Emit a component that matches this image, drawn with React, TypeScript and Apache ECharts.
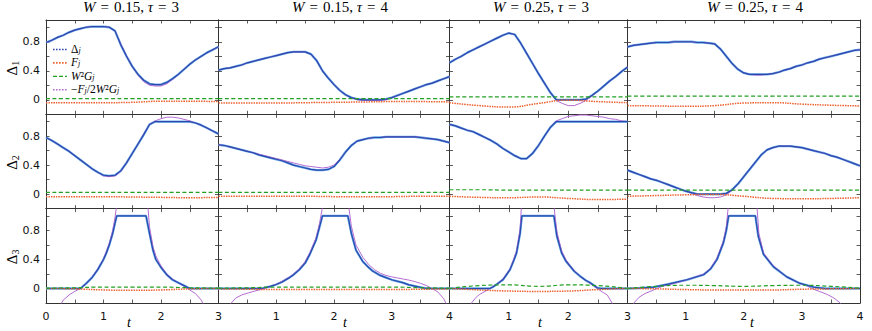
import React, { useEffect, useRef } from "react";
import * as echarts from "echarts";

// ---------------- data ----------------
const tFine = 0.1;
const tCoarse = 0.5;
const wValues = ["0.15", "0.15", "0.25", "0.25"];
const tauValues = [3, 4, 3, 4];
const yLabelValues = [0, 0.4, 0.8];
const rowNames = ["1", "2", "3"];

// Row 1 (Δ1), sampled every 0.1 in t
const delta11 = [0.79,0.82,0.86,0.89,0.93,0.96,0.98,1.00,1.01,1.01,1.01,1.00,0.95,0.76,0.60,0.46,0.35,0.27,0.22,0.21,0.21,0.24,0.29,0.35,0.42,0.49,0.55,0.60,0.65,0.69,0.73];
const purple11 = [0.79,0.82,0.86,0.89,0.93,0.96,0.98,1.00,1.01,1.01,1.01,1.00,0.95,0.77,0.61,0.46,0.34,0.25,0.20,0.19,0.19,0.22,0.28,0.35,0.42,0.49,0.55,0.60,0.65,0.69,0.73];
const delta12 = [0.41,0.43,0.44,0.46,0.48,0.51,0.53,0.55,0.57,0.59,0.61,0.63,0.65,0.66,0.66,0.66,0.63,0.54,0.40,0.30,0.21,0.13,0.07,0.03,0.01,0.00,0.00,0.00,0.00,0.01,0.03,0.06,0.09,0.12,0.15,0.18,0.21,0.23,0.26,0.29,0.32];
const purple12 = [0.41,0.43,0.44,0.46,0.48,0.51,0.53,0.55,0.57,0.59,0.61,0.63,0.65,0.66,0.66,0.66,0.63,0.54,0.40,0.30,0.21,0.13,0.07,0.03,0.00,-0.01,-0.01,-0.01,-0.01,0.00,0.03,0.06,0.09,0.12,0.15,0.18,0.21,0.23,0.26,0.29,0.32];
const delta13 = [0.51,0.56,0.60,0.65,0.69,0.73,0.77,0.81,0.85,0.89,0.92,0.90,0.78,0.64,0.50,0.36,0.23,0.10,0.00,0.00,0.00,0.00,0.00,0.01,0.06,0.12,0.19,0.26,0.32,0.39,0.45];
const purple13 = [0.51,0.56,0.60,0.65,0.69,0.73,0.77,0.81,0.85,0.89,0.92,0.90,0.78,0.64,0.50,0.36,0.23,0.10,-0.01,-0.05,-0.08,-0.08,-0.05,-0.01,0.05,0.12,0.19,0.26,0.32,0.39,0.45];
const delta14 = [0.73,0.75,0.76,0.77,0.78,0.79,0.79,0.79,0.80,0.80,0.80,0.80,0.79,0.79,0.78,0.77,0.70,0.60,0.50,0.42,0.37,0.35,0.35,0.35,0.35,0.36,0.38,0.41,0.43,0.46,0.48,0.51,0.53,0.56,0.58,0.60,0.62,0.64,0.66,0.68,0.69];
const purple14 = [0.73,0.75,0.76,0.77,0.78,0.79,0.79,0.79,0.80,0.80,0.80,0.80,0.79,0.79,0.78,0.77,0.70,0.60,0.50,0.42,0.37,0.35,0.34,0.34,0.35,0.36,0.38,0.41,0.43,0.46,0.48,0.51,0.53,0.56,0.58,0.60,0.62,0.64,0.66,0.68,0.69];

// Row 2 (Δ2)
const delta21 = [0.78,0.74,0.69,0.64,0.59,0.53,0.47,0.41,0.35,0.30,0.26,0.25,0.26,0.32,0.43,0.56,0.69,0.82,0.96,1.00,1.00,1.00,1.00,1.00,1.00,1.00,0.98,0.95,0.91,0.87,0.83];
const purple21 = [0.78,0.74,0.69,0.64,0.59,0.53,0.47,0.41,0.35,0.30,0.25,0.24,0.25,0.31,0.43,0.56,0.69,0.83,0.96,1.01,1.04,1.06,1.06,1.05,1.03,1.01,0.98,0.95,0.91,0.87,0.83];
const delta22 = [0.68,0.67,0.65,0.63,0.61,0.59,0.57,0.54,0.52,0.50,0.48,0.46,0.43,0.40,0.38,0.36,0.34,0.33,0.33,0.34,0.38,0.47,0.58,0.67,0.73,0.75,0.77,0.78,0.78,0.79,0.79,0.79,0.79,0.79,0.79,0.78,0.77,0.76,0.75,0.73,0.71];
const purple22 = [0.68,0.67,0.65,0.63,0.61,0.59,0.57,0.55,0.53,0.51,0.49,0.47,0.45,0.43,0.41,0.39,0.38,0.37,0.36,0.37,0.40,0.48,0.58,0.67,0.73,0.75,0.77,0.78,0.78,0.79,0.79,0.79,0.79,0.79,0.79,0.78,0.77,0.76,0.75,0.73,0.71];
const delta23 = [0.96,0.94,0.91,0.88,0.86,0.82,0.78,0.74,0.69,0.63,0.58,0.53,0.49,0.49,0.56,0.67,0.80,0.92,1.00,1.00,1.00,1.00,1.00,1.00,1.00,1.00,1.00,1.00,1.00,1.00,1.00];
const purple23 = [0.96,0.94,0.91,0.88,0.86,0.82,0.78,0.74,0.69,0.63,0.58,0.53,0.49,0.49,0.56,0.67,0.80,0.92,1.01,1.04,1.07,1.08,1.09,1.09,1.08,1.07,1.06,1.04,1.03,1.01,1.00];
const delta24 = [0.33,0.30,0.27,0.24,0.21,0.19,0.16,0.13,0.10,0.07,0.04,0.02,0.00,0.00,0.00,0.00,0.00,0.01,0.06,0.14,0.24,0.34,0.44,0.54,0.61,0.64,0.66,0.66,0.66,0.65,0.64,0.62,0.60,0.58,0.56,0.53,0.51,0.48,0.45,0.42,0.39];
const purple24 = [0.33,0.30,0.27,0.24,0.21,0.19,0.16,0.13,0.10,0.07,0.04,0.01,-0.02,-0.04,-0.05,-0.05,-0.04,-0.01,0.05,0.14,0.24,0.34,0.44,0.54,0.61,0.64,0.66,0.66,0.66,0.65,0.64,0.62,0.60,0.58,0.56,0.53,0.51,0.48,0.45,0.42,0.39];

// Row 3 (Δ3), [t, value] pairs
const delta31 = [[0,0],[0.6,0],[0.7,0.07],[0.8,0.15],[0.9,0.26],[1.0,0.40],[1.05,0.49],[1.1,0.60],[1.16,0.76],[1.2,0.9],[1.23,1],[1.74,1],[1.8,0.76],[1.86,0.53],[1.91,0.40],[2.0,0.29],[2.1,0.19],[2.2,0.12],[2.3,0.08],[2.4,0.04],[2.5,0],[3,0]];
const purple31 = [[0.1,-0.6],[0.2,-0.3],[0.3,-0.16],[0.4,-0.09],[0.5,-0.04],[0.6,0.0],[0.7,0.07],[0.8,0.155],[0.9,0.27],[1.0,0.41],[1.1,0.62],[1.16,0.8],[1.2,0.98],[1.23,1.15],[1.26,1.6],[1.3,3],[1.7,3],[1.74,1.6],[1.77,1.15],[1.8,0.85],[1.86,0.58],[1.91,0.45],[2.0,0.31],[2.1,0.2],[2.2,0.13],[2.3,0.08],[2.4,0.03],[2.5,-0.02],[2.6,-0.07],[2.7,-0.16],[2.8,-0.32],[2.9,-0.6]];
const delta32 = [[0,0],[0.75,0],[0.9,0.03],[1.0,0.055],[1.1,0.09],[1.23,0.15],[1.3,0.19],[1.4,0.26],[1.5,0.35],[1.58,0.47],[1.69,0.67],[1.75,0.85],[1.8,1],[2.24,1],[2.3,0.76],[2.38,0.53],[2.5,0.37],[2.6,0.29],[2.67,0.24],[2.8,0.18],[2.9,0.15],[3.0,0.12],[3.19,0.08],[3.3,0.05],[3.48,0.02],[3.6,0],[4,0]];
const purple32 = [[0.1,-0.45],[0.2,-0.22],[0.3,-0.13],[0.4,-0.09],[0.52,-0.06],[0.65,-0.03],[0.8,0.0],[0.9,0.03],[1.0,0.06],[1.1,0.10],[1.23,0.16],[1.3,0.2],[1.4,0.27],[1.5,0.37],[1.58,0.49],[1.69,0.7],[1.75,0.9],[1.8,1.12],[1.83,1.5],[1.9,3],[2.15,3],[2.22,1.5],[2.26,1.1],[2.3,0.86],[2.38,0.6],[2.5,0.43],[2.6,0.33],[2.7,0.26],[2.8,0.21],[2.9,0.18],[3.0,0.16],[3.1,0.145],[3.2,0.13],[3.3,0.115],[3.4,0.095],[3.5,0.07],[3.6,0.04],[3.7,0.0],[3.8,-0.05],[3.9,-0.14],[3.95,-0.22],[4,-0.5]];
const delta33 = [[0,0],[0.68,0],[0.73,0.02],[0.8,0.06],[0.9,0.12],[1.02,0.26],[1.08,0.38],[1.13,0.49],[1.19,0.76],[1.22,1],[1.76,1],[1.81,0.72],[1.89,0.49],[1.96,0.38],[2.03,0.31],[2.1,0.24],[2.2,0.17],[2.3,0.11],[2.37,0.08],[2.49,0.01],[2.55,0],[3,0]];
const purple33 = [[0.3,-0.4],[0.37,-0.2],[0.45,-0.12],[0.51,-0.08],[0.6,-0.04],[0.68,0.0],[0.73,0.025],[0.8,0.065],[0.9,0.13],[1.02,0.27],[1.08,0.40],[1.13,0.52],[1.19,0.82],[1.21,1.1],[1.23,1.5],[1.3,3],[1.7,3],[1.74,1.5],[1.765,1.1],[1.81,0.78],[1.89,0.52],[1.96,0.40],[2.03,0.32],[2.1,0.25],[2.2,0.17],[2.3,0.11],[2.37,0.07],[2.49,0.0],[2.58,-0.05],[2.66,-0.09],[2.74,-0.2],[2.8,-0.4]];
const delta34 = [[0,0],[0.2,0.005],[0.45,0.02],[0.7,0.06],[1.02,0.12],[1.31,0.19],[1.43,0.27],[1.54,0.4],[1.65,0.63],[1.7,0.8],[1.74,1],[2.2,1],[2.25,0.72],[2.34,0.47],[2.51,0.3],[2.74,0.16],[2.97,0.07],[3.2,0.02],[3.4,0],[4,0]];
const purple34 = [[0.05,-0.5],[0.11,-0.2],[0.2,-0.12],[0.3,-0.07],[0.45,-0.02],[0.6,0.03],[0.8,0.07],[1.02,0.12],[1.31,0.2],[1.43,0.28],[1.54,0.42],[1.65,0.66],[1.7,0.85],[1.73,1.1],[1.76,1.5],[1.8,3],[2.15,3],[2.2,1.5],[2.23,1.1],[2.26,0.76],[2.34,0.49],[2.51,0.31],[2.74,0.16],[2.97,0.07],[3.1,0.03],[3.17,0.0],[3.3,-0.04],[3.43,-0.08],[3.55,-0.13],[3.66,-0.2],[3.75,-0.4]];

// F_j and W^2 G_j, sampled every 0.5 in t
const f11 = [-0.04,-0.04,-0.04,-0.035,-0.02,-0.02,-0.025];
const g11 = [0.015,0.015,0.015,0.015,0.015,0.015,0.015];
const f12 = [-0.045,-0.045,-0.045,-0.04,-0.035,-0.03,-0.025,-0.025,-0.03];
const g12 = [0.015,0.015,0.015,0.015,0.015,0.015,0.015,0.015,0.015];
const f13 = [-0.04,-0.08,-0.10,-0.05,-0.005,-0.025,-0.04];
const g13 = [0.04,0.04,0.04,0.04,0.04,0.04,0.04];
const f14 = [-0.08,-0.085,-0.09,-0.08,-0.045,-0.04,-0.06,-0.075,-0.085];
const g14 = [0.05,0.05,0.05,0.05,0.05,0.05,0.05,0.05,0.05];
const f21 = [-0.035,-0.035,-0.035,-0.04,-0.045,-0.05,-0.045];
const g21 = [0.025,0.025,0.025,0.025,0.025,0.025,0.025];
const f22 = [-0.03,-0.03,-0.03,-0.03,-0.035,-0.035,-0.035,-0.03,-0.03];
const g22 = [0.025,0.025,0.025,0.025,0.025,0.025,0.025,0.025,0.025];
const f23 = [-0.03,-0.045,-0.05,-0.04,-0.06,-0.075,-0.07];
const g23 = [0.06,0.06,0.055,0.055,0.055,0.055,0.055];
const f24 = [-0.03,-0.02,-0.01,-0.005,-0.03,-0.06,-0.065,-0.06,-0.05];
const g24 = [0.055,0.055,0.055,0.055,0.055,0.055,0.055,0.055,0.055];
const f31 = [0.0,-0.005,-0.02,-0.025,-0.02,-0.005,0.0];
const g31 = [0.005,0.01,0.02,0.02,0.02,0.01,0.005];
const f32 = [-0.005,-0.01,-0.015,-0.015,-0.015,-0.015,-0.015,-0.01,-0.005];
const g32 = [0.005,0.01,0.02,0.02,0.02,0.02,0.02,0.01,0.005];
const f33 = [0.0,-0.02,-0.035,-0.04,-0.035,-0.015,0.0];
const g33 = [0.0,0.04,0.05,0.03,0.05,0.04,0.0];
const f34 = [0.0,-0.005,-0.015,-0.02,-0.02,-0.02,-0.01,-0.005,0.0];
const g34 = [0.0,0.03,0.045,0.04,0.03,0.04,0.045,0.03,0.005];

function onGrid(values: number[], step: number): number[][] {
  return values.map((v, i) => [+(i * step).toFixed(2), v]);
}

const panels = [
  { delta: onGrid(delta11, tFine), purple: onGrid(purple11, tFine), f: onGrid(f11, tCoarse), g: onGrid(g11, tCoarse) },
  { delta: onGrid(delta12, tFine), purple: onGrid(purple12, tFine), f: onGrid(f12, tCoarse), g: onGrid(g12, tCoarse) },
  { delta: onGrid(delta13, tFine), purple: onGrid(purple13, tFine), f: onGrid(f13, tCoarse), g: onGrid(g13, tCoarse) },
  { delta: onGrid(delta14, tFine), purple: onGrid(purple14, tFine), f: onGrid(f14, tCoarse), g: onGrid(g14, tCoarse) },
  { delta: onGrid(delta21, tFine), purple: onGrid(purple21, tFine), f: onGrid(f21, tCoarse), g: onGrid(g21, tCoarse) },
  { delta: onGrid(delta22, tFine), purple: onGrid(purple22, tFine), f: onGrid(f22, tCoarse), g: onGrid(g22, tCoarse) },
  { delta: onGrid(delta23, tFine), purple: onGrid(purple23, tFine), f: onGrid(f23, tCoarse), g: onGrid(g23, tCoarse) },
  { delta: onGrid(delta24, tFine), purple: onGrid(purple24, tFine), f: onGrid(f24, tCoarse), g: onGrid(g24, tCoarse) },
  { delta: delta31, purple: purple31, f: onGrid(f31, tCoarse), g: onGrid(g31, tCoarse) },
  { delta: delta32, purple: purple32, f: onGrid(f32, tCoarse), g: onGrid(g32, tCoarse) },
  { delta: delta33, purple: purple33, f: onGrid(f33, tCoarse), g: onGrid(g33, tCoarse) },
  { delta: delta34, purple: purple34, f: onGrid(f34, tCoarse), g: onGrid(g34, tCoarse) },
];

// ---------------- layout / style ----------------
const COL_LEFT = [46, 218.5, 449.5, 627.5];
const COL_WIDTH = [172.5, 231, 178, 232.5];
const ROW_TOP = [20, 114.3, 208.7];
const ROW_H = 94.3;
const TITLE_X = [131, 340, 541, 755];
const TLABEL_X = [129, 345, 540, 752];

const SERIF = "'Liberation Serif', 'DejaVu Serif', serif";
const SANS = "'DejaVu Sans', sans-serif";
const C_LIGHT = "#64ace6";
const C_DARK = "#2a48b0";
const C_ORANGE = "#ee6230";
const C_GREEN = "#22a022";
const C_PURPLE = "#b46cd2";
const C_AXIS = "#333";

function mathRich(size: number, subSize: number, lh: number, drop: number) {
  return {
    i: { fontFamily: SERIF, fontStyle: "italic", fontSize: size, fill: "#000", lineHeight: lh },
    r: { fontFamily: SERIF, fontSize: size, fill: "#000", lineHeight: lh },
    e: { fontFamily: SERIF, fontSize: size, fill: "#000", lineHeight: lh, padding: [0, 5, 0, 5] },
    s: { fontFamily: SERIF, fontStyle: "italic", fontSize: subSize, fill: "#000", lineHeight: lh, padding: [drop, 0, 0, 0] },
    n: { fontFamily: SERIF, fontSize: subSize, fill: "#000", lineHeight: lh, padding: [drop, 0, 0, 0] },
  };
}

function buildOption() {
  const grid: any[] = [];
  const xAxis: any[] = [];
  const yAxis: any[] = [];
  const series: any[] = [];
  const axisLine = { show: true, onZero: false, lineStyle: { color: C_AXIS, width: 1 } };
  const axisTick = { show: true, inside: true, length: 3.5, lineStyle: { color: C_AXIS, width: 0.8 } };

  for (let r = 0; r < 3; r++) {
    for (let c = 0; c < 4; c++) {
      const k = r * 4 + c;
      grid.push({ left: COL_LEFT[c], top: ROW_TOP[r], width: COL_WIDTH[c], height: ROW_H });
      const xBase = {
        type: "value", gridIndex: k, min: 0, max: tauValues[c], interval: 0.5,
        axisLine, axisTick, splitLine: { show: false },
      };
      xAxis.push({
        ...xBase, position: "bottom",
        axisLabel: {
          show: r === 2, margin: 8, fontSize: 11, fontFamily: SANS, color: "#111",
          formatter: (v: number) => {
            const n = Math.round(v);
            if (Math.abs(v - n) > 1e-6) return "";
            if (c > 0 && n === 0) return "";
            return String(n);
          },
        },
      });
      xAxis.push({ ...xBase, position: "top", axisLabel: { show: false } });
      const yBase = {
        type: "value", gridIndex: k, min: -0.2, max: 1.1, interval: 0.2,
        axisLine, axisTick, splitLine: { show: false },
      };
      yAxis.push({
        ...yBase, position: "left",
        axisLabel: {
          show: c === 0, margin: 6, fontSize: 11, fontFamily: SANS, color: "#111",
          formatter: (v: number) => {
            const hit = yLabelValues.find((a) => Math.abs(a - v) < 1e-6);
            return hit === undefined ? "" : String(hit);
          },
        },
      });
      yAxis.push({ ...yBase, position: "right", axisLabel: { show: false } });

      const p = panels[k];
      const base = {
        type: "line", xAxisIndex: 2 * k, yAxisIndex: 2 * k, showSymbol: false, symbol: "none",
        silent: true, clip: true, animation: false,
      };
      series.push({ ...base, data: p.delta, lineStyle: { color: C_LIGHT, width: 2.3 } });
      series.push({ ...base, data: p.purple, lineStyle: { color: C_PURPLE, width: 1 } });
      series.push({ ...base, data: p.delta, lineStyle: { color: C_DARK, width: 1.2 } });
      series.push({ ...base, data: p.f, smooth: true, lineStyle: { color: C_ORANGE, width: 1.5, type: [1.5, 1] } });
      series.push({ ...base, data: p.g, smooth: true, lineStyle: { color: C_GREEN, width: 1.2, type: [4, 2.5] } });
    }
  }

  const graphic: any[] = [];
  // column titles and t labels
  for (let c = 0; c < 4; c++) {
    graphic.push({
      type: "text", x: TITLE_X[c], y: 7,
      style: {
        text: `{i|W}{e|=}{r|${wValues[c]}, }{i|τ}{e|=}{r|${tauValues[c]}}`,
        rich: mathRich(15, 11, 15, 5), fontSize: 15, fontFamily: SERIF, lineHeight: 15,
        align: "center", verticalAlign: "middle", fill: "#000",
      },
    });
    graphic.push({
      type: "text", x: TLABEL_X[c], y: 322,
      style: {
        text: "t", fontSize: 14, fontFamily: SERIF, fontStyle: "italic", lineHeight: 14,
        align: "center", verticalAlign: "middle", fill: "#000",
      },
    });
  }
  // row labels Δ1 Δ2 Δ3
  for (let r = 0; r < 3; r++) {
    graphic.push({
      type: "text", x: 12, y: ROW_TOP[r] + ROW_H / 2 + 1, rotation: Math.PI / 2,
      style: {
        text: `{r|Δ}{n|${rowNames[r]}}`, rich: mathRich(15, 10, 15, 6), fontSize: 15, fontFamily: SERIF, lineHeight: 15,
        align: "center", verticalAlign: "middle", fill: "#000",
      },
    });
  }
  // legend in first panel
  const legendItems = [
    { text: "{r|Δ}{s|j}", color: C_DARK, dash: [1.6, 1.4], width: 1.6 },
    { text: "{i|F}{s|j}", color: C_ORANGE, dash: [1.6, 1.4], width: 1.8 },
    { text: "{i|W}{r|²}{i|G}{s|j}", color: C_GREEN, dash: [4, 2], width: 1.3 },
    { text: "{r|−}{i|F}{s|j}{r|/2}{i|W}{r|²}{i|G}{s|j}", color: C_PURPLE, dash: [1.6, 1.4], width: 1.6 },
  ];
  const legendY = [49.5, 62.9, 76.3, 89.7];
  legendItems.forEach((it, idx) => {
    graphic.push({
      type: "line", silent: true,
      shape: { x1: 53, y1: legendY[idx], x2: 67, y2: legendY[idx] },
      style: { stroke: it.color, lineWidth: it.width, lineDash: it.dash },
    });
    graphic.push({
      type: "text", x: 71, y: legendY[idx] - 0.5,
      style: {
        text: it.text, rich: mathRich(11.5, 8, 11, 2.5), fontSize: 11.5, fontFamily: SERIF, lineHeight: 11,
        align: "left", verticalAlign: "middle", fill: "#000",
      },
    });
  });

  return {
    animation: false,
    backgroundColor: "#ffffff",
    textStyle: { fontFamily: SANS },
    grid, xAxis, yAxis, series, graphic,
  };
}

export default function App() {
  const ref = useRef<HTMLDivElement | null>(null);
  useEffect(() => {
    if (!ref.current) return;
    const chart = echarts.init(ref.current, null, { renderer: "svg" });
    chart.setOption(buildOption() as any);
    return () => chart.dispose();
  }, []);
  return (
    <div
      ref={ref}
      style={{ position: "absolute", left: 0, top: 0, width: 872, height: 331, background: "#fff" }}
    />
  );
}
